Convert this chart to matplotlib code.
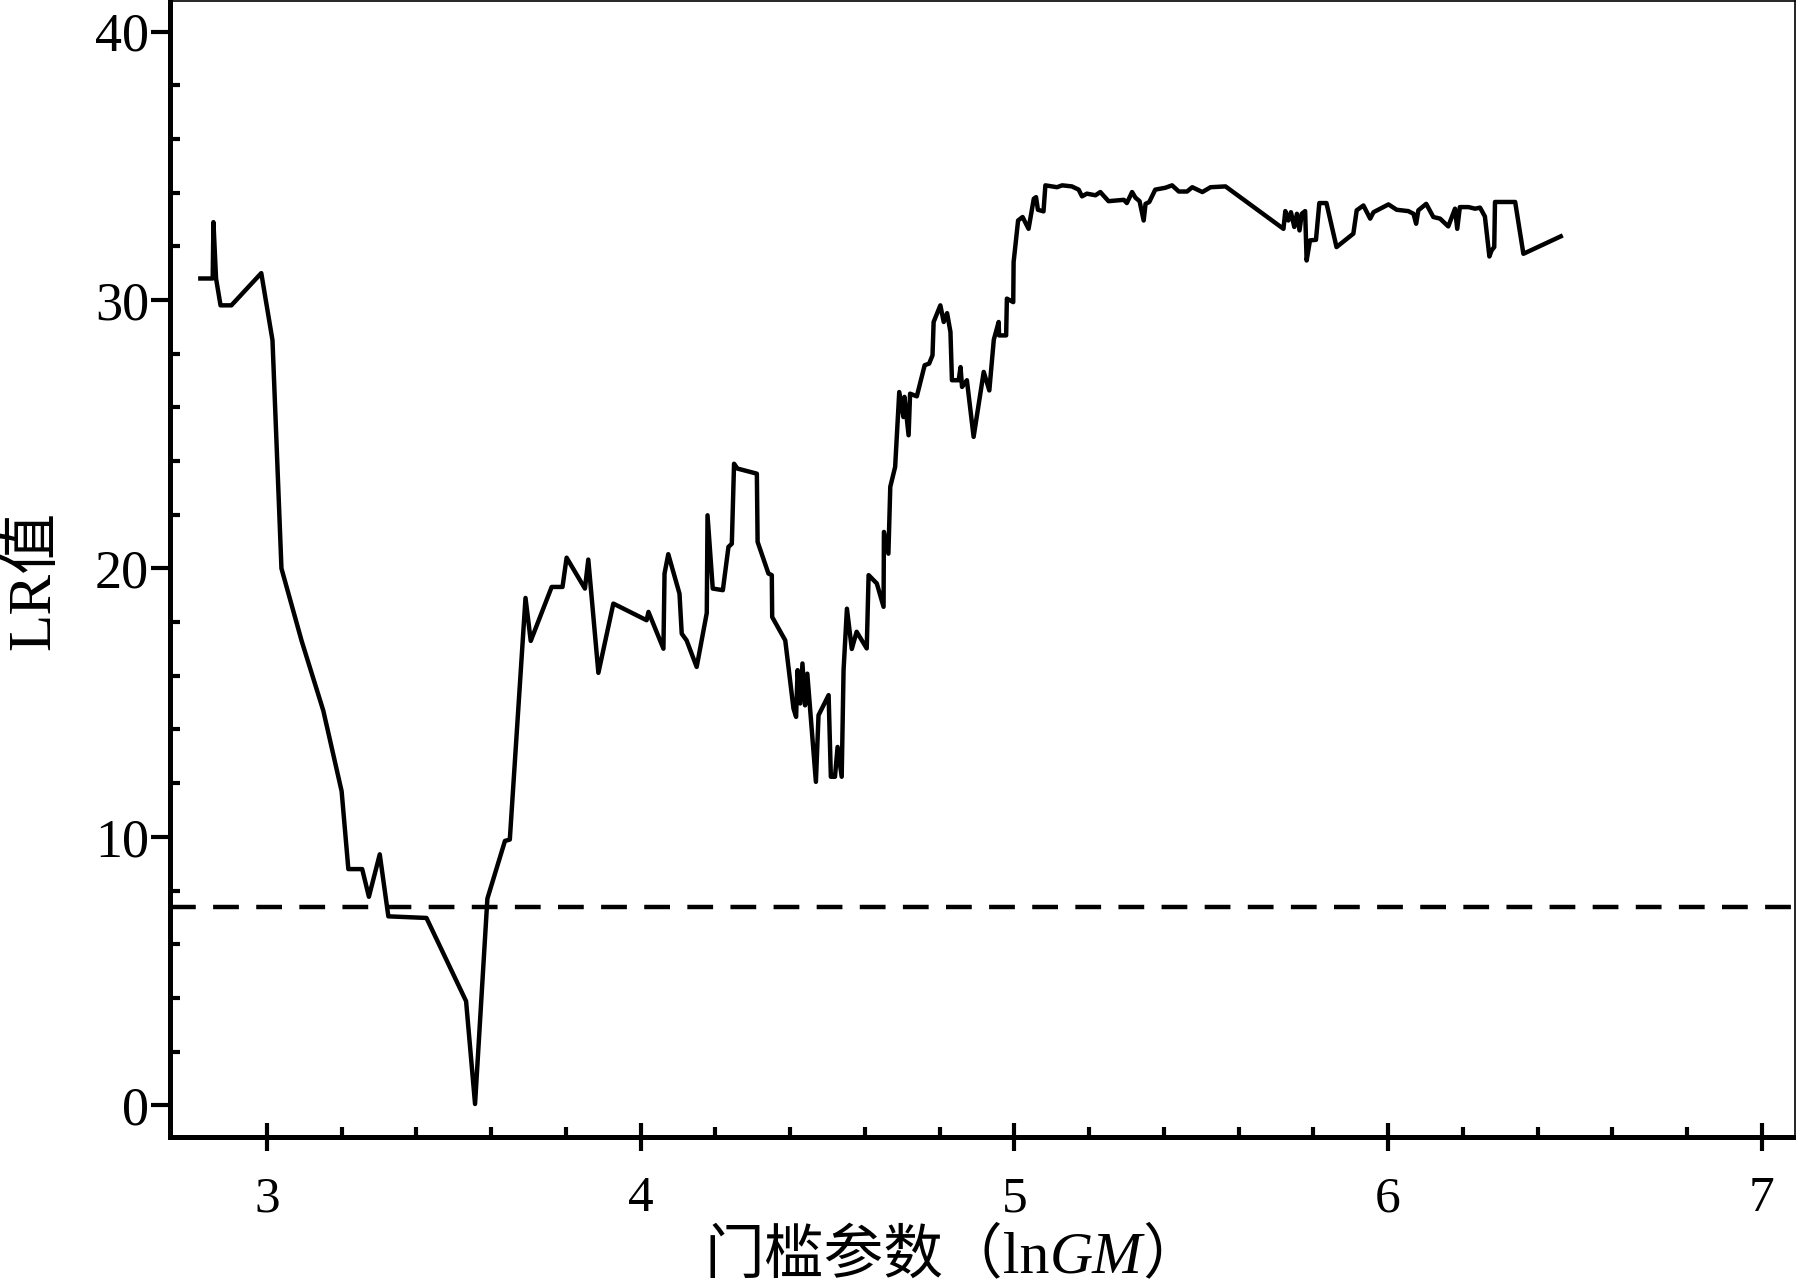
import matplotlib
matplotlib.use('Agg')
import matplotlib.pyplot as plt
from matplotlib.ticker import FixedLocator

plt.rcParams['font.family'] = ['Liberation Serif', 'Noto Sans CJK SC']

# threshold parameter (lnGM) and LR statistic
threshold = [2.822, 2.855, 2.857, 2.864, 2.876, 2.905, 2.985, 3.015, 3.039, 3.093,
             3.151, 3.200, 3.218, 3.255, 3.273, 3.302, 3.325, 3.427, 3.533, 3.557,
             3.590, 3.637, 3.650, 3.692, 3.706, 3.762, 3.791, 3.802, 3.851, 3.860,
             3.887, 3.927, 4.016, 4.021, 4.061, 4.064, 4.074, 4.104, 4.110, 4.123,
             4.150, 4.177, 4.179, 4.193, 4.220, 4.235, 4.244, 4.250, 4.259, 4.311,
             4.313, 4.342, 4.351, 4.352, 4.387, 4.409, 4.416, 4.420, 4.427, 4.433,
             4.440, 4.446, 4.469, 4.476, 4.503, 4.509, 4.520, 4.527, 4.538, 4.543,
             4.552, 4.565, 4.578, 4.605, 4.610, 4.632, 4.650, 4.651, 4.663, 4.668,
             4.681, 4.692, 4.703, 4.706, 4.717, 4.721, 4.739, 4.760, 4.772, 4.781,
             4.784, 4.802, 4.811, 4.820, 4.829, 4.833, 4.851, 4.856, 4.860, 4.873,
             4.891, 4.918, 4.933, 4.945, 4.958, 4.959, 4.978, 4.980, 4.997, 4.998,
             5.010, 5.022, 5.038, 5.052, 5.058, 5.063, 5.078, 5.083, 5.114, 5.128,
             5.154, 5.172, 5.181, 5.194, 5.217, 5.230, 5.252, 5.293, 5.301, 5.315,
             5.324, 5.335, 5.346, 5.351, 5.361, 5.377, 5.404, 5.422, 5.440, 5.462,
             5.476, 5.503, 5.525, 5.565, 5.720, 5.725, 5.733, 5.740, 5.749, 5.756,
             5.763, 5.769, 5.778, 5.782, 5.791, 5.807, 5.816, 5.835, 5.862, 5.907,
             5.916, 5.934, 5.952, 5.961, 6.001, 6.023, 6.054, 6.068, 6.075, 6.081,
             6.102, 6.121, 6.139, 6.161, 6.179, 6.185, 6.192, 6.215, 6.233, 6.246,
             6.259, 6.271, 6.277, 6.284, 6.286, 6.340, 6.362, 6.462]
lr_value = [30.80, 30.80, 32.90, 30.80, 29.80, 29.80, 31.00, 28.50, 20.00, 17.30,
            14.70, 11.70, 8.80, 8.80, 7.77, 9.35, 7.04, 6.98, 3.88, 0.05,
            7.70, 9.85, 9.90, 18.90, 17.30, 19.31, 19.31, 20.40, 19.25, 20.33,
            16.11, 18.69, 18.07, 18.38, 17.01, 19.81, 20.53, 19.06, 17.57, 17.32,
            16.33, 18.34, 21.98, 19.25, 19.19, 20.80, 20.92, 23.90, 23.72, 23.53,
            20.99, 19.81, 19.75, 18.19, 17.32, 14.78, 14.47, 16.21, 14.97, 16.46,
            14.90, 16.08, 12.05, 14.53, 15.28, 12.24, 12.24, 13.35, 12.24, 16.21,
            18.50, 17.00, 17.64, 17.02, 19.75, 19.44, 18.57, 21.36, 20.55, 23.04,
            23.78, 26.57, 25.64, 26.39, 24.96, 26.51, 26.41, 27.57, 27.63, 27.94,
            29.18, 29.80, 29.18, 29.51, 28.81, 27.01, 27.01, 27.50, 26.76, 27.01,
            24.90, 27.32, 26.63, 28.52, 29.18, 28.68, 28.68, 30.05, 29.92, 31.41,
            32.96, 33.09, 32.65, 33.77, 33.83, 33.36, 33.30, 34.27, 34.20, 34.27,
            34.23, 34.11, 33.86, 33.96, 33.90, 34.02, 33.68, 33.73, 33.61, 34.02,
            33.81, 33.68, 32.96, 33.58, 33.65, 34.11, 34.18, 34.27, 34.04, 34.04,
            34.20, 34.02, 34.20, 34.23, 32.65, 33.31, 32.96, 33.27, 32.72, 33.21,
            32.59, 33.21, 33.31, 31.47, 32.22, 32.24, 33.61, 33.61, 31.97, 32.47,
            33.34, 33.52, 33.03, 33.27, 33.56, 33.36, 33.31, 33.21, 32.84, 33.34,
            33.58, 33.09, 33.03, 32.74, 33.40, 32.65, 33.46, 33.46, 33.40, 33.44,
            33.11, 31.62, 31.85, 31.97, 33.65, 33.65, 31.72, 32.37]
critical_value = 7.38

x_ticks = [3, 4, 5, 6, 7]
x_minor = [3.2, 3.4, 3.6, 3.8, 4.2, 4.4, 4.6, 4.8, 5.2, 5.4, 5.6, 5.8,
           6.2, 6.4, 6.6, 6.8]
y_ticks = [0, 10, 20, 30, 40]
y_minor = [v for v in range(2, 40, 2) if v % 10 != 0]

fig = plt.figure(figsize=(17.96, 12.81), dpi=100)
ax = fig.add_axes([0.0947, 0.1124, 0.9048, 0.8871])

ax.plot(threshold, lr_value, color='black', linewidth=3.2)
ax.axhline(critical_value, color='black', linewidth=3.2, linestyle=(0, (5.8, 3.9)))

ax.set_xlim(2.741, 7.089)
ax.set_ylim(-1.18, 41.15)

for side in ['left', 'bottom']:
    ax.spines[side].set_linewidth(3.6)
for side in ['top', 'right']:
    ax.spines[side].set_linewidth(1.2)

ax.xaxis.set_major_locator(FixedLocator(x_ticks))
ax.xaxis.set_minor_locator(FixedLocator(x_minor))
ax.yaxis.set_major_locator(FixedLocator(y_ticks))
ax.yaxis.set_minor_locator(FixedLocator(y_minor))
ax.set_xticklabels([str(t) for t in x_ticks])
ax.set_yticklabels([str(t) for t in y_ticks])

ax.tick_params(axis='x', which='major', direction='inout', length=20, width=3,
               labelsize=37, pad=18)
ax.tick_params(axis='x', which='minor', direction='in', length=7, width=3)
ax.tick_params(axis='y', which='major', direction='out', length=14, width=3,
               labelsize=39, pad=1)
ax.tick_params(axis='y', which='minor', direction='in', length=7, width=3)

# y label
fig.text(0.019, 0.547, 'LR值', rotation=90, ha='center', va='center', fontsize=44)

# x label built from pieces so that GM can be italic
renderer = fig.canvas.get_renderer()
fig_w = fig.bbox.width
x_pos = 0.392
y_base = 0.007
for piece, style in [('门槛参数（ln', 'normal'), ('GM', 'italic'), ('）', 'normal')]:
    t = fig.text(x_pos, y_base, piece, fontsize=43, style=style, va='baseline', ha='left')
    bb = t.get_window_extent(renderer=renderer)
    x_pos = bb.x1 / fig_w

plt.savefig('out.png', dpi=100)
